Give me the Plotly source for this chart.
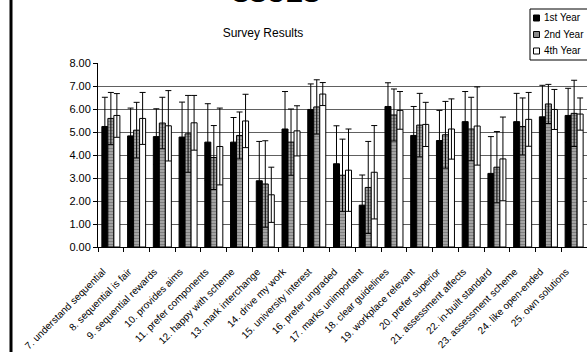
import plotly.graph_objects as go

categories = ["7. understand sequential", "8. sequential is fair", "9. sequential rewards",
              "10. provides aims", "11. prefer components", "12. happy with scheme",
              "13. mark interchange", "14. drive my work", "15. university interest",
              "16. prefer ungraded", "17. marks unimportant", "18. clear guidelines",
              "19. workplace relevant", "20. prefer superior", "21. assessment affects",
              "22. in-built standard", "23. assessment scheme", "24. like open-ended",
              "25. own solutions"]

year1 = [5.24, 4.83, 4.80, 4.78, 4.56, 4.56, 2.88, 5.13, 5.98, 3.62, 1.82, 6.11, 4.85, 4.63, 5.45, 3.20, 5.45, 5.66, 5.72]
year1_err = [1.27, 1.21, 1.21, 1.52, 1.67, 1.07, 1.71, 1.63, 1.11, 1.65, 1.31, 1.03, 1.26, 1.31, 1.31, 1.60, 1.23, 1.37, 1.18]
year2 = [5.59, 5.08, 5.39, 4.92, 3.89, 4.85, 2.74, 4.56, 6.09, 3.12, 2.59, 5.74, 5.30, 4.88, 5.13, 3.47, 5.24, 6.22, 5.81]
year2_err = [1.13, 1.21, 1.12, 1.67, 1.39, 1.02, 1.88, 1.44, 1.18, 1.57, 2.00, 1.13, 1.38, 1.45, 1.38, 1.55, 1.24, 0.85, 1.44]
year4 = [5.72, 5.59, 5.27, 5.40, 4.37, 5.48, 2.27, 5.05, 6.65, 3.34, 3.25, 5.94, 5.33, 5.13, 5.26, 3.83, 5.55, 5.98, 5.78]
year4_err = [0.95, 1.13, 1.53, 1.19, 1.67, 1.16, 1.20, 1.09, 0.50, 1.79, 2.03, 0.82, 0.96, 1.31, 1.70, 1.82, 1.17, 0.87, 0.70]

series_names = ["1st Year", "2nd Year", "4th Year"]
series_fill = ["black", "#9a9a9a", "white"]
legend_swatch = ["black", "#888888", "white"]

FONT = "Arial, Liberation Sans, sans-serif"
W, H = 587, 352
ML, MR, MT, MB = 98, 0, 63, 105
PW = W - ML - MR
PH = H - MT - MB


def px_x(x):
    return (x - ML) / PW


def px_y(y):
    return (H - MB - y) / PH


fig = go.Figure()

err_style = dict(type="data", symmetric=True, color="black", thickness=1, width=3)
patterns = [None,
            dict(shape="-", fgcolor="#555555", bgcolor="#a8a8a8", size=3, solidity=0.4),
            None]
errors = [year1_err, year2_err, year4_err]
values = [year1, year2, year4]

for name, vals, errs, fill, pat in zip(series_names, values, errors, series_fill, patterns):
    marker = dict(color=fill, line=dict(color="black", width=1))
    if pat:
        marker["pattern"] = pat
    fig.add_trace(go.Bar(x=categories, y=vals, name=name, marker=marker,
                         error_y=dict(array=errs, **err_style)))

# left border of the slide frame (drawn as a thin filled strip)
shapes = [dict(type="rect", xref="paper", yref="paper",
               x0=px_x(9.5), x1=px_x(12.5), y0=px_y(H + 2), y1=px_y(-2),
               line=dict(width=0), fillcolor="black", layer="above")]

# legend box drawn in the original's compact style
shapes.append(dict(type="rect", xref="paper", yref="paper",
                   x0=px_x(530), x1=px_x(600), y0=px_y(60), y1=px_y(9),
                   line=dict(color="black", width=1), fillcolor="white", layer="above"))
annotations = []
entry_y = [18, 34.5, 51]
for name, col, ey in zip(series_names, legend_swatch, entry_y):
    shapes.append(dict(type="rect", xref="paper", yref="paper",
                       x0=px_x(533.5), x1=px_x(539.5), y0=px_y(ey + 3), y1=px_y(ey - 3),
                       line=dict(color="black", width=1), fillcolor=col, layer="above"))
    annotations.append(dict(text=name, xref="paper", yref="paper", x=px_x(542), y=px_y(ey),
                            xanchor="left", yanchor="middle", showarrow=False,
                            font=dict(family=FONT, size=10, color="black")))

# heading above the frame, mostly out of view
annotations.append(dict(text="<b>SSUES</b>", xref="paper", yref="paper",
                        x=px_x(276), y=px_y(10), xanchor="center", yanchor="bottom",
                        showarrow=False, font=dict(family=FONT, size=26, color="black")))

fig.update_layout(
    width=W, height=H,
    margin=dict(l=ML, r=MR, t=MT, b=MB, pad=0, autoexpand=False),
    paper_bgcolor="white", plot_bgcolor="white",
    font=dict(family=FONT, color="black", size=11),
    showlegend=False,
    barmode="group", bargap=0.3, bargroupgap=0,
    title=dict(text="Survey Results", x=263 / W, xref="container", xanchor="center",
               y=1 - 33 / H, yref="container", yanchor="middle",
               font=dict(family=FONT, size=12, color="black")),
    xaxis=dict(type="category", tickangle=-45, ticks="outside", tickson="boundaries",
               ticklen=4, tickcolor="black", showline=True, linecolor="black",
               linewidth=1, showgrid=False, automargin=False,
               ticklabelstandoff=14, ticklabelshift=-8,
               tickfont=dict(family=FONT, size=10, color="black"),
               range=[-0.5, len(categories) - 0.5]),
    yaxis=dict(range=[0, 8], dtick=1, tickformat=".2f", ticks="outside", ticklen=4,
               tickcolor="black", showline=True, linecolor="black", linewidth=1,
               showgrid=True, gridcolor="#606060", gridwidth=1, zeroline=False,
               automargin=False,
               tickfont=dict(family=FONT, size=11, color="black")),
    shapes=shapes,
    annotations=annotations,
)

fig.write_html("out.html", config={"displayModeBar": False},
               post_script="document.body.style.margin='0px';document.body.style.overflow='hidden';")
